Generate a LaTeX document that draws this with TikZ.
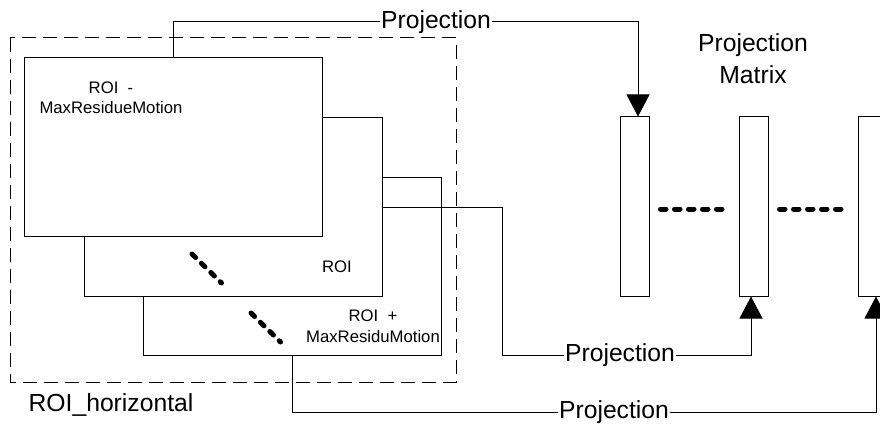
\documentclass[tikz,border=0pt]{standalone}
\usepackage{fontspec}
\setmainfont{Liberation Sans}
\usetikzlibrary{arrows.meta,calc}
\tikzset{
  roibox/.style={draw, fill=white, line width=1pt, minimum width=298pt, minimum height=178pt, inner sep=0pt},
  colbox/.style={draw, fill=white, line width=1pt, minimum width=29pt, minimum height=179pt, inner sep=0pt},
  small/.style={font=\fontsize{16.7}{20.5}\selectfont, align=center, inner sep=0pt},
  big/.style={font=\fontsize{24.7}{32}\selectfont, align=center, inner sep=0pt},
  projlabel/.style={font=\fontsize{24.7}{30}\selectfont, inner sep=1pt},
  conn/.style={line width=1pt},
  arrowconn/.style={line width=1pt, -{Triangle[width=23pt,length=22pt]}},
  bigdots/.style={line width=5pt, line cap=round, dash pattern=on 5.5pt off 8.5pt},
  diagdots/.style={line width=5pt, line cap=round, dash pattern=on 5pt off 8.2pt},
  outline/.style={draw, line width=1pt, dash pattern=on 14pt off 7pt},
}
\begin{document}
\begin{tikzpicture}[x=1pt, y=-1pt]
\useasboundingbox (0,0) rectangle (880,425);
% dashed group
\draw[outline] (10,38) rectangle (456,382);
% stacked ROI boxes
\node[roibox] (r3) at (292.5,266.5) {};
\node[roibox] (r2) at (233,207) {};
\node[roibox] (r1) at (173,147) {};
\node[small] (t1) at (111,98) {ROI\ \ -\\MaxResidueMotion};
\node[small] (t2) at (337,267) {ROI};
\node[small] (t3) at (373,326) {ROI\ \ +\\MaxResiduMotion};
\draw[diagdots] (192,254) -- (221.5,283);
\draw[diagdots] (251,313) -- (280.5,342);
\node[big] (grp) at (111,405) {ROI\_horizontal};
% projection matrix columns
\node[colbox] (c1) at (634.5,206.5) {};
\node[colbox] (c2) at (753.5,206.5) {};
\node[colbox] (c3) at (873,206.5) {};
\node[big] (pm) at (753,59) {Projection\\Matrix};
\draw[bigdots] ($(c1.east)+(11,2.5)$) -- ($(c2.west)+(-14,2.5)$);
\draw[bigdots] ($(c2.east)+(11,2.5)$) -- ($(c3.west)+(-14,2.5)$);
% connectors
\node[projlabel] (p1) at (436,22) {Projection};
\node[projlabel] (p2) at (620,355) {Projection};
\node[projlabel] (p3) at (614,412) {Projection};
\coordinate (k2) at (502,355);
\draw[conn] (r1.north) |- (p1.west);
\draw[arrowconn] (p1.east) -| ([xshift=3.5pt]c1.north);
\draw[conn] (r2.east) -| (k2) -- (p2.west);
\draw[arrowconn] (p2.east) -| ([xshift=-2.5pt]c2.south);
\draw[conn] (r3.south) |- (p3.west);
\draw[arrowconn] (p3.east) -| ([xshift=3pt]c3.south);
\end{tikzpicture}
\end{document}
